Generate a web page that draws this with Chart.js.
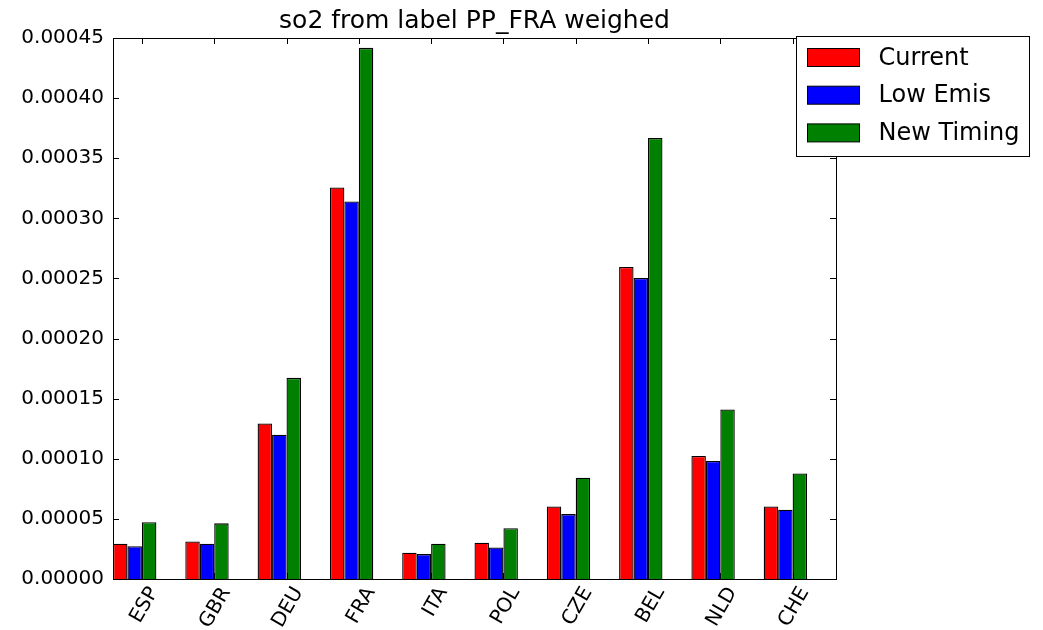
<!DOCTYPE html>
<html>
<head>
<meta charset="utf-8">
<title>so2 from label PP_FRA weighed</title>
<script src="https://cdn.jsdelivr.net/npm/chart.js@4.4.0/dist/chart.umd.min.js"></script>
<style>
  html, body { margin: 0; padding: 0; background: #fff; }
  #wrap { width: 1043px; height: 630px; }
</style>
</head>
<body>
<div id="wrap"><canvas id="so2Chart"></canvas></div>
<script>
const chartTitle = "so2 from label PP_FRA weighed";
const countries = ["ESP", "GBR", "DEU", "FRA", "ITA", "POL", "CZE", "BEL", "NLD", "CHE"];
const seriesNames = ["Current", "Low Emis", "New Timing"];
const seriesColors = ["#ff0000", "#0000ff", "#008000"];

// values
const current = [0.0000293, 0.0000312, 0.0001293, 0.0003257, 0.0000218, 0.0000302, 0.0000604, 0.0002596, 0.0001023, 0.0000604];
const lowEmis = [0.0000273, 0.0000293, 0.0001200, 0.0003140, 0.0000207, 0.0000262, 0.0000540, 0.0002504, 0.0000982, 0.0000577];
const newTiming = [0.0000473, 0.0000463, 0.0001673, 0.0004418, 0.0000293, 0.0000423, 0.0000843, 0.0003668, 0.0001410, 0.0000877];

const yTicks = [0, 0.00005, 0.0001, 0.00015, 0.0002, 0.00025, 0.0003, 0.00035, 0.0004, 0.00045];

// matplotlib style: bars start at i, each 0.2 wide, tick label at i + 0.4
const groupCenter = 0.3;
const tickOffset = 0.4;

const fontFamily = "'DejaVu Sans', 'Liberation Sans', sans-serif";

function toPoints(values) {
  return values.map((v, i) => ({ x: i + groupCenter, y: v }));
}

const seriesValues = [current, lowEmis, newTiming];
const datasets = seriesNames.map((name, k) => ({
  label: name,
  data: toPoints(seriesValues[k]),
  backgroundColor: seriesColors[k],
  borderColor: "#000",
  borderWidth: 1.3,
  borderSkipped: "bottom",
  barPercentage: 1,
  categoryPercentage: 0.6,
}));

// frame + inward tick marks, like matplotlib
const framePlugin = {
  id: "frame",
  afterDatasetsDraw(chart) {
    const { ctx, chartArea: a, scales } = chart;
    ctx.save();
    ctx.strokeStyle = "#000";
    ctx.lineWidth = 1;
    const line = (x1, y1, x2, y2) => {
      ctx.beginPath();
      ctx.moveTo(x1, y1);
      ctx.lineTo(x2, y2);
      ctx.stroke();
    };
    scales.y.ticks.forEach((t) => {
      const py = Math.round(scales.y.getPixelForValue(t.value)) + 0.5;
      line(a.left, py, a.left + 6, py);
      line(a.right - 6, py, a.right, py);
    });
    scales.x.ticks.forEach((t) => {
      const px = Math.round(scales.x.getPixelForValue(t.value)) + 0.5;
      line(px, a.bottom, px, a.bottom - 6);
      line(px, a.top, px, a.top + 6);
    });
    ctx.strokeRect(Math.round(a.left) + 0.5, Math.round(a.top) + 0.5,
      Math.round(a.right - a.left), Math.round(a.bottom - a.top));
    ctx.restore();
  },
};

const titlePlugin = {
  id: "plotTitle",
  afterDraw(chart) {
    const { ctx, chartArea: a } = chart;
    ctx.save();
    ctx.font = "25px " + fontFamily;
    ctx.fillStyle = "#000";
    ctx.textAlign = "center";
    ctx.textBaseline = "alphabetic";
    ctx.fillText(chartTitle, (a.left + a.right) / 2, 28);
    ctx.restore();
  },
};

// legend box sits over the top right corner of the axes
const legendPlugin = {
  id: "boxLegend",
  afterDraw(chart) {
    const { ctx, chartArea: a } = chart;
    const x0 = Math.round(a.right) - 39.5;
    const y0 = Math.round(a.top) - 1.5;
    const w = 233;
    const h = 120;
    ctx.save();
    ctx.fillStyle = "#fff";
    ctx.strokeStyle = "#000";
    ctx.lineWidth = 1;
    ctx.fillRect(x0, y0, w, h);
    ctx.strokeRect(x0, y0, w, h);
    ctx.font = "24px " + fontFamily;
    ctx.textBaseline = "middle";
    ctx.textAlign = "left";
    chart.data.datasets.forEach((ds, k) => {
      const cy = y0 + 21 + k * 37.7;
      ctx.fillStyle = ds.backgroundColor;
      ctx.fillRect(x0 + 11, cy - 9, 52, 18);
      ctx.strokeRect(x0 + 11, cy - 9, 52, 18);
      ctx.fillStyle = "#000";
      ctx.fillText(ds.label, x0 + 82, cy + 1);
    });
    ctx.restore();
  },
};

const ctx = document.getElementById("so2Chart").getContext("2d");
const so2Chart = new Chart(ctx, {
  type: "bar",
  data: { datasets: datasets },
  plugins: [framePlugin, titlePlugin, legendPlugin],
  options: {
    responsive: true,
    maintainAspectRatio: false,
    animation: false,
    layout: { padding: { top: 38, right: 207, left: 0, bottom: 0 } },
    plugins: {
      legend: { display: false },
      title: { display: false },
      tooltip: { enabled: false },
    },
    scales: {
      x: {
        type: "linear",
        min: 0,
        max: countries.length,
        offset: false,
        grid: { display: false, drawTicks: false },
        border: { display: false },
        afterBuildTicks(scale) {
          scale.ticks = countries.map((c, i) => ({ value: i + tickOffset }));
        },
        afterFit(scale) {
          scale.height = 51;
        },
        ticks: {
          autoSkip: false,
          minRotation: 60,
          maxRotation: 60,
          padding: 4,
          labelOffset: 12,
          color: "#000",
          font: { family: fontFamily, size: 20 },
          callback: (value, index) => countries[index],
        },
      },
      y: {
        min: 0,
        max: 0.00045,
        grid: { display: false, drawTicks: false },
        border: { display: false },
        afterBuildTicks(scale) {
          scale.ticks = yTicks.map((v) => ({ value: v }));
        },
        afterFit(scale) {
          scale.width = 113;
        },
        ticks: {
          padding: 9,
          color: "#000",
          font: { family: fontFamily, size: 20 },
          callback: (value) => value.toFixed(5),
        },
      },
    },
  },
});
</script>
</body>
</html>
